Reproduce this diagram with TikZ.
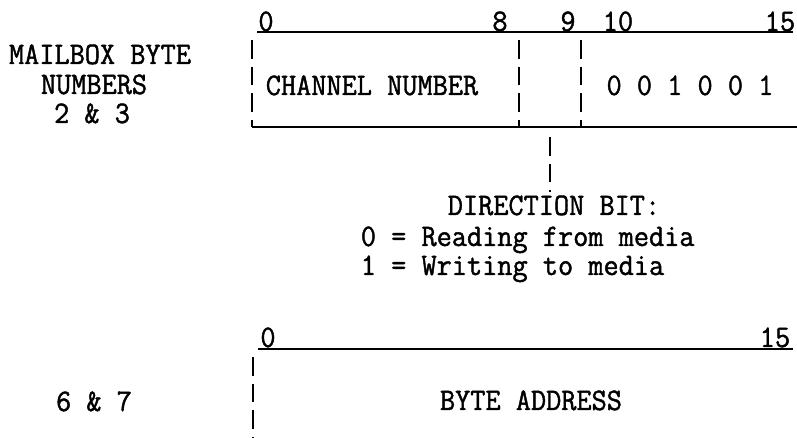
\documentclass[tikz,border=0pt]{standalone}
\usepackage{fontspec}
\newfontfamily\schreib{Latin Modern Mono}[FakeBold=1.3, FakeStretch=0.94]
\usetikzlibrary{calc}

\begin{document}
\begin{tikzpicture}[x=0.75pt, y=-0.75pt, inner sep=0pt, line width=1.3pt,
	font=\schreib\fontsize{23.5}{27}\selectfont,
	txt/.style={anchor=base},
	teiler/.style={dash pattern=on 14pt off 6pt}]
	
	\useasboundingbox (0,0) rectangle (797,438);
	
	% Beschriftung links
	\node[txt](mailbox) at (100,64) {MAILBOX BYTE};
	\node[txt](numbers) at (94,94) {NUMBERS};
	\node[txt](n23) at (92,123) {2 \& 3};
	\node[txt](n67) at (94,411) {6 \& 7};
	
	% Bitnummern
	\node[txt](t0) at (266,31) {0};
	\node[txt](t8) at (500,31) {8};
	\node[txt](t9) at (568,31) {9};
	\node[txt](t10) at (618,31) {10};
	\node[txt](t15) at (780,31) {15};
	
	\node[txt](u0) at (268,347) {0};
	\node[txt](u15) at (775,347) {15};
	
	% Felder
	\node[txt](channel) at (372,95) {CHANNEL NUMBER};
	\node[txt](bits) at (690,95) {0 0 1 0 0 1};
	\node[txt](address) at (531,410) {BYTE ADDRESS};
	
	\node[txt](dir) at (554,215) {DIRECTION BIT:};
	\node[txt, anchor=base west](read) at (360,246) {0 = Reading from media};
	\node[txt, anchor=base west](write) at (360,275) {1 = Writing to media};
	
	\coordinate (top_start) at (257,32);
	\coordinate (top_ende) at (793,32);
	
	\coordinate (bot_start) at (252,127);
	\coordinate (bot_ende) at (797,127);
	
	\coordinate (l_start) at (252,40);
	\coordinate (l_ende) at (252,127);
	
	\coordinate (d8_start) at (519,40);
	\coordinate (d8_ende) at (519,127);
	
	\coordinate (d9_start) at (581,40);
	\coordinate (d9_ende) at (581,127);
	
	\coordinate (dir_start) at (550,137);
	\coordinate (dir_ende) at (550,192);
	
	\coordinate (adr_start) at (258,349);
	\coordinate (adr_ende) at (793,349);
	
	\coordinate (al_start) at (253,357);
	\coordinate (al_ende) at (253,438);
	
	% horizontale Linien
	\draw (top_start) -- (top_ende);
	\draw (bot_start) -- (bot_ende);
	\draw (adr_start) -- (adr_ende);
	
	% vertikale Linien
	\draw[teiler] (l_start) -- (l_ende);
	\draw[teiler] (d8_start) -- (d8_ende);
	\draw[teiler] (d9_start) -- (d9_ende);
	\draw[teiler] (dir_start) -- (dir_ende);
	\draw[teiler] (al_start) -- (al_ende);
\end{tikzpicture}
\end{document}
